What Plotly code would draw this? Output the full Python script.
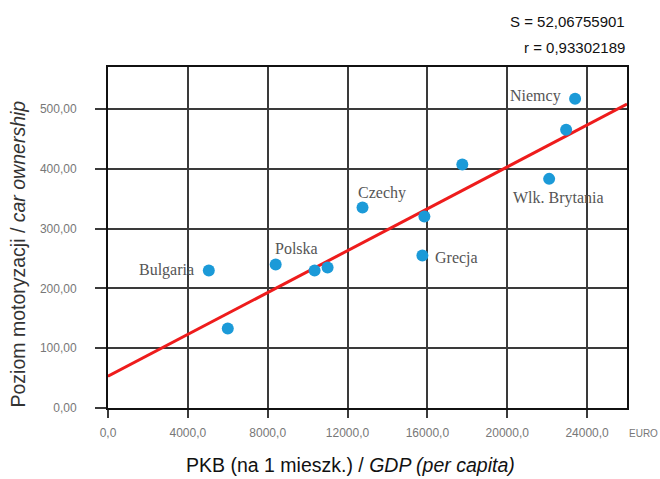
import plotly.graph_objects as go

# ---- data ----
gdp = [5050, 6000, 8400, 10350, 11000, 12750, 15850, 15750, 17750, 22100, 22950, 23400]
cars = [230, 133, 240, 230, 235, 335, 320, 255, 407, 383, 465, 517]
names = ["Bulgaria", "", "Polska", "", "", "Czechy", "", "Grecja", "", "Wlk. Brytania", "", "Niemcy"]

fit_intercept = 53.0
fit_slope = 0.0175
fit_x = [0, 26000]

x_tick_vals = [0, 4000, 8000, 12000, 16000, 20000, 24000]
x_tick_labels = ["0,0", "4000,0", "8000,0", "12000,0", "16000,0", "20000,0", "24000,0"]
y_tick_vals = [0, 100, 200, 300, 400, 500]
y_tick_labels = ["0,00", "100,00", "200,00", "300,00", "400,00", "500,00"]

stat_s = "S = 52,06755901"
stat_r = "r = 0,93302189"

# label placement (pixel offsets from the point, +dy = down; xanchor)
label_pos = {
    "Bulgaria": (-13, 0, "right"),
    "Polska": (-3, -16, "left"),
    "Czechy": (-7, -15, "left"),
    "Grecja": (11, 3, "left"),
    "Wlk. Brytania": (-38, 19, "left"),
    "Niemcy": (-12, -3, "right"),
}

fit_y = [fit_intercept + fit_slope * v for v in fit_x]

grid_col = "#3a3a3a"
tick_font = dict(family="Liberation Sans", size=12, color="#777777")
fig = go.Figure()
fig.add_trace(go.Scatter(x=fit_x, y=fit_y, mode="lines",
                         line=dict(color="#ee1c1c", width=3), hoverinfo="skip"))
fig.add_trace(go.Scatter(x=gdp, y=cars, mode="markers",
                         marker=dict(color="#1b9ad8", size=12), text=names))

annotations = []
for xv, yv, nm in zip(gdp, cars, names):
    if not nm:
        continue
    dx, dy, anc = label_pos[nm]
    annotations.append(dict(x=xv, y=yv, xref="x", yref="y", text=nm, showarrow=False,
                            xshift=dx, yshift=-dy, xanchor=anc, yanchor="middle",
                            font=dict(family="Liberation Serif", size=16, color="#555555")))

annotations += [
    dict(x=1, y=1, xref="paper", yref="paper", yshift=46, text=stat_s, showarrow=False,
         xanchor="right", yanchor="middle",
         font=dict(family="Liberation Sans", size=15, color="#111111")),
    dict(x=1, y=1, xref="paper", yref="paper", yshift=20, text=stat_r, showarrow=False,
         xanchor="right", yanchor="middle",
         font=dict(family="Liberation Sans", size=15, color="#111111")),
    dict(x=1, y=0, xref="paper", yref="paper", yshift=-25, xshift=0, text="EURO", showarrow=False,
         xanchor="left", yanchor="middle",
         font=dict(family="Liberation Sans", size=10, color="#777777")),
    dict(x=0.467, y=0, xref="paper", yref="paper", yshift=-57, text="PKB (na 1 mieszk.) / <i>GDP (per capita)</i>",
         showarrow=False, xanchor="center", yanchor="middle",
         font=dict(family="Liberation Sans", size=19.5, color="#111111")),
    dict(x=0, y=0.45, xref="paper", yref="paper", xshift=-90, text="Poziom motoryzacji / <i>car ownership</i>",
         showarrow=False, xanchor="center", yanchor="middle", textangle=-90,
         font=dict(family="Liberation Sans", size=19.5, color="#333333")),
]

fig.update_layout(
    width=660, height=479,
    margin=dict(l=108, r=33, t=67, b=71),
    paper_bgcolor="white", plot_bgcolor="white",
    showlegend=False,
    annotations=annotations,
    xaxis=dict(range=[0, 26000], tickvals=x_tick_vals, ticktext=x_tick_labels,
               showgrid=True, gridcolor=grid_col, gridwidth=2, zeroline=False,
               showline=True, linecolor="#111111", linewidth=2, mirror=True,
               ticks="outside", ticklen=8, tickwidth=2, tickcolor=grid_col,
               ticklabelstandoff=5,
               tickfont=tick_font),
    yaxis=dict(range=[0, 570], tickvals=y_tick_vals, ticktext=y_tick_labels,
               showgrid=True, gridcolor=grid_col, gridwidth=2, zeroline=False,
               showline=True, linecolor="#111111", linewidth=2, mirror=True,
               ticks="outside", ticklen=11, tickwidth=2, tickcolor=grid_col,
               ticklabelstandoff=16,
               tickfont=tick_font),
)

# remove the default page margin so the 660x479 figure fills the window exactly
fig.write_html("out.html", config={"displayModeBar": False},
               post_script="document.body.style.margin='0px';")
